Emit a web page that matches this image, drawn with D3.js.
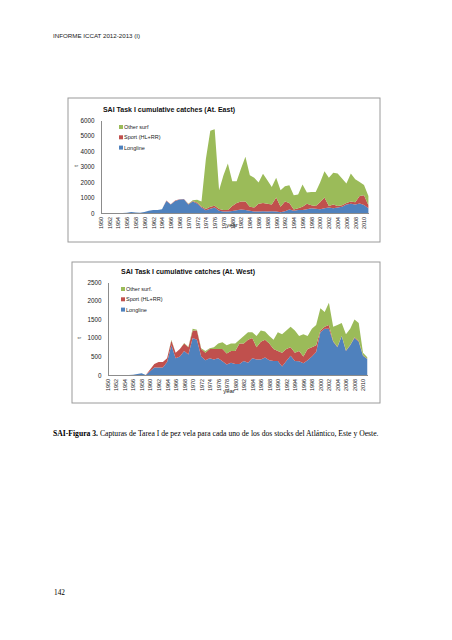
<!DOCTYPE html>
<html><head><meta charset="utf-8">
<script src="https://cdn.jsdelivr.net/npm/d3@7"></script>
<style>body{margin:0;background:#fff}svg{display:block}</style>
</head><body>
<script>
const years = d3.range(1950, 2012);
const tickYears = d3.range(1950, 2011, 2);
const seriesKeys = ["Longline", "Sport", "Other"];
const colors = ["#4F81BD", "#C0504D", "#9BBB59"];

const eastLongline = [0,0,0,0,0,0,20,60,30,10,60,150,200,200,250,780,550,780,870,880,550,740,620,350,180,280,350,150,100,90,130,180,220,200,150,100,90,110,100,120,100,50,120,230,150,200,200,250,300,280,250,300,350,300,350,400,550,600,550,620,520,300];
const eastSport = [0,0,0,0,0,0,0,0,0,0,0,0,0,0,0,20,20,20,20,20,30,40,60,70,80,120,110,110,100,110,320,470,530,550,250,250,510,540,500,430,900,350,630,420,70,100,200,350,200,170,450,700,100,250,100,100,100,150,150,480,630,200];
const eastOther = [0,0,0,0,0,0,0,0,0,0,0,0,0,0,0,0,0,0,0,10,20,40,170,330,3240,4900,4940,1210,2240,3000,1600,1400,2120,2880,2040,1920,1370,1880,1520,1130,1270,1070,980,1140,930,900,1440,720,850,900,1270,1700,1820,2050,2100,1720,1250,1800,1480,900,650,600];

const westLongline = [0,0,0,0,0,0,10,30,50,0,100,200,200,200,350,800,450,500,650,550,1000,950,500,400,450,420,450,370,280,330,300,300,380,330,450,420,420,470,400,380,380,230,380,520,380,370,320,400,500,620,1150,1250,1250,900,750,1050,650,800,1000,900,520,430];
const westSport = [0,0,0,0,0,0,0,0,0,0,50,100,150,150,100,130,150,200,200,200,200,250,200,200,250,280,250,330,300,320,350,550,470,620,550,330,480,480,450,320,270,370,320,230,220,280,180,300,250,180,50,50,100,10,10,10,10,10,20,20,10,10];
const westOther = [0,0,0,0,0,0,0,0,0,0,0,0,0,0,0,20,0,0,10,10,50,20,20,50,20,50,150,180,220,200,200,100,200,200,150,300,300,220,200,250,500,500,500,550,600,400,600,350,500,550,600,400,600,390,590,340,440,440,480,480,70,40];

const eastTicks = [0,1000,2000,3000,4000,5000,6000];
const westTicks = [0,500,1000,1500,2000,2500];

const svg = d3.select("body").append("svg").attr("width",452).attr("height",640);
const SANS = "Liberation Sans, Arial, sans-serif";
const SERIF = "Liberation Serif, Times New Roman, serif";

svg.append("text").attr("x",53).attr("y",38).attr("font-family",SANS)
  .attr("font-size",6.2).attr("fill","#222").text("INFORME ICCAT 2012-2013 (I)");

const cap = svg.append("text").attr("x",53).attr("y",435.5).attr("font-family",SERIF)
  .attr("font-size",7.65).attr("fill","#000");
cap.append("tspan").attr("font-weight","bold").text("SAI-Figura 3.");
cap.append("tspan").text(" Capturas de Tarea I de pez vela para cada uno de los dos stocks del Atlántico, Este y Oeste.");

svg.append("text").attr("x",54).attr("y",595).attr("font-family",SERIF)
  .attr("font-size",7.3).attr("fill","#000").text("142");

function drawChart(cfg){
  const g = svg.append("g");
  g.append("rect").attr("x",cfg.box[0]).attr("y",cfg.box[1]).attr("width",cfg.box[2]).attr("height",cfg.box[3])
    .attr("fill","#fff").attr("stroke","#9a9a9a").attr("stroke-width",1);
  const x = d3.scalePoint().domain(years).range([cfg.x0, cfg.x1]);
  const y = d3.scaleLinear().domain([0, cfg.ymax]).range([cfg.y0, cfg.y1]);
  const rows = years.map((yr,i)=>({year:yr, Longline:cfg.ll[i], Sport:cfg.sp[i], Other:cfg.ot[i]}));
  const stack = d3.stack().keys(seriesKeys)(rows);
  const area = d3.area().x(d=>x(d.data.year)).y0(d=>y(d[0])).y1(d=>y(d[1]));
  g.selectAll("path.layer").data(stack).join("path").attr("class","layer")
    .attr("d",area).attr("fill",(d,i)=>colors[i]);
  const ya = g.append("g").attr("transform",`translate(${cfg.x0},0)`)
    .call(d3.axisLeft(y).tickValues(cfg.ticks).tickSize(0).tickPadding(6).tickFormat(d3.format("d")));
  ya.select(".domain").attr("stroke","#8c8c8c").attr("stroke-width",1).attr("shape-rendering","crispEdges");
  ya.selectAll("text").attr("font-family",SANS).attr("font-size",6.3).attr("fill","#222");
  const xa = g.append("g").attr("transform",`translate(0,${cfg.y0})`)
    .call(d3.axisBottom(x).tickValues(tickYears).tickSize(0).tickFormat(d3.format("d")));
  xa.select(".domain").attr("stroke","#8c8c8c").attr("stroke-width",1).attr("shape-rendering","crispEdges");
  xa.selectAll("text").attr("font-family",SANS).attr("font-size",5.4).attr("fill","#222")
    .attr("text-anchor","end").attr("transform","rotate(-90)").attr("x",-4).attr("y",0).attr("dy","0.35em");
  g.append("text").attr("x",cfg.title[0]).attr("y",cfg.title[1]).attr("text-anchor","middle")
    .attr("font-family",SANS).attr("font-weight","bold").attr("font-size",7)
    .attr("fill","#111").text(cfg.titleText);
  g.append("text").attr("x",cfg.yearPos[0]).attr("y",cfg.yearPos[1]).attr("text-anchor","middle")
    .attr("font-family",SANS).attr("font-size",6).attr("fill","#222").text("year");
  g.append("text").attr("transform",`translate(${cfg.tPos[0]},${cfg.tPos[1]}) rotate(-90)`).attr("text-anchor","middle")
    .attr("font-family",SANS).attr("font-size",6).attr("fill","#222").text("t");
  const names = cfg.legendNames;
  [2,1,0].forEach((k,j)=>{
    const ly = cfg.legend[1] + j*10.3;
    g.append("rect").attr("x",cfg.legend[0]).attr("y",ly-2).attr("width",4).attr("height",4).attr("fill",colors[k]);
    g.append("text").attr("x",cfg.legend[0]+5).attr("y",ly).attr("dy","0.35em")
      .attr("font-family",SANS).attr("font-size",5.5).attr("fill","#222").text(names[k]);
  });
}

drawChart({box:[68,98,312,144], x0:100.5, x1:368.4, y0:213, y1:120, ymax:6000, ticks:eastTicks,
  ll:eastLongline, sp:eastSport, ot:eastOther, title:[169,112], titleText:"SAI Task I cumulative catches (At. East)",
  yearPos:[232,227], tPos:[78,166], legend:[119,127], legendNames:["Longline","Sport (HL+RR)","Other surf"]});

drawChart({box:[72,262,308,141], x0:107.5, x1:367.25, y0:375, y1:282.3, ymax:2500, ticks:westTicks,
  ll:westLongline, sp:westSport, ot:westOther, title:[188,273.5], titleText:"SAI Task I cumulative catches (At. West)",
  yearPos:[229,393], tPos:[81,338], legend:[121,289], legendNames:["Longline","Sport (HL+RR)","Other surf."]});
</script>
</body></html>
